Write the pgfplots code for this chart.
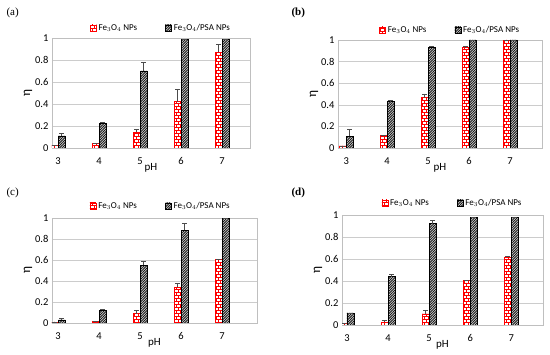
\documentclass[border=0pt]{standalone}
\usepackage{fontspec}
\setmainfont{Carlito}
\newfontfamily\panelfont{Liberation Serif}
\usepackage{pgfplots}
\pgfplotsset{compat=1.18}
\usetikzlibrary{patterns}
\pgfdeclarepatterninherentlycolored{redbricks}{\pgfpoint{-0.1pt}{-0.1pt}}{\pgfpoint{4.1pt}{6.1pt}}{\pgfpoint{4pt}{6pt}}{%
  \pgfsetfillcolor{white}\pgfpathrectangle{\pgfpointorigin}{\pgfpoint{4pt}{6pt}}\pgfusepath{fill}%
  \pgfsetstrokecolor{red}\pgfsetlinewidth{0.9pt}%
  \pgfpathmoveto{\pgfpoint{0pt}{0pt}}\pgfpathlineto{\pgfpoint{4pt}{0pt}}%
  \pgfpathmoveto{\pgfpoint{0pt}{3pt}}\pgfpathlineto{\pgfpoint{4pt}{3pt}}%
  \pgfpathmoveto{\pgfpoint{0pt}{0pt}}\pgfpathlineto{\pgfpoint{0pt}{3pt}}%
  \pgfpathmoveto{\pgfpoint{2pt}{3pt}}\pgfpathlineto{\pgfpoint{2pt}{6pt}}%
  \pgfusepath{stroke}}
\pgfdeclarepatterninherentlycolored{darkhatch}{\pgfpoint{-0.1pt}{-0.1pt}}{\pgfpoint{2.6pt}{2.6pt}}{\pgfpoint{2.5pt}{2.5pt}}{%
  \pgfsetfillcolor{black!15}\pgfpathrectangle{\pgfpointorigin}{\pgfpoint{2.5pt}{2.5pt}}\pgfusepath{fill}%
  \pgfsetstrokecolor{black!90}\pgfsetlinewidth{0.75pt}%
  \pgfpathmoveto{\pgfpoint{-0.5pt}{-0.5pt}}\pgfpathlineto{\pgfpoint{3pt}{3pt}}%
  \pgfusepath{stroke}}
\pgfplotsset{
  panel/.style={
    ybar=0pt, bar width=7pt, scale only axis,
    xtick={0,1,2,3,4}, xticklabels={3,4,5,6,7},
    ymin=0, ymax=1, ytick={0,0.2,0.4,0.6,0.8,1},
    yticklabels={0,0.2,0.4,0.6,0.8,1},
    major tick length=0pt,
    axis line style={black!25},
    ymajorgrids, grid style={black!20},
    tick label style={font=\fontsize{10.5}{12}\selectfont},
    xticklabel style={yshift=-6pt},
    xlabel={pH}, ylabel={η},
    xlabel style={font=\fontsize{11}{13}\selectfont, yshift=8pt},
    ylabel style={font=\fontsize{13}{14}\selectfont, yshift=-4pt},
    legend columns=2,
    legend style={draw=none, fill=none, font=\fontsize{9}{11}\selectfont,
      /tikz/every even column/.append style={column sep=26pt}},
    legend image code/.code={\draw[#1] (0pt,-3pt) rectangle (6pt,3pt);},
    error bars/y dir=plus, error bars/y explicit,
    error bars/error bar style={black!70, line width=0.6pt},
    error bars/error mark options={rotate=90, mark size=2.5pt, black!70, line width=0.6pt},
  },
  redbar/.style={draw=red, pattern=redbricks, line width=0.6pt},
  blackbar/.style={draw=black, pattern=darkhatch, line width=0.6pt},
}
\begin{document}
\begin{tikzpicture}
\useasboundingbox (0,0) rectangle (550pt,-355pt);
% (a)
\begin{axis}[panel, at={(52pt,-148pt)}, anchor=south west, width=198pt, height=110pt,
  xmin=-0.15, xmax=4.68,
  legend style={at={(0.55,1)}, anchor=south, yshift=2pt}]
\addplot[redbar] coordinates {(0,0.025) +- (0,0.0) (1,0.04) +- (0,0.005) (2,0.145) +- (0,0.025) (3,0.42) +- (0,0.11) (4,0.87) +- (0,0.075)};
\addplot[blackbar] coordinates {(0,0.11) +- (0,0.025) (1,0.225) +- (0,0.01) (2,0.70) +- (0,0.08) (3,0.985) +- (0,0.0) (4,0.985) +- (0,0.0)};
\legend{Fe$_3$O$_4$ NPs, Fe$_3$O$_4$/PSA NPs}
\end{axis}
% (b)
\begin{axis}[panel, at={(338pt,-148pt)}, anchor=south west, width=204pt, height=108pt,
  xmin=-0.2, xmax=4.78,
  legend style={at={(0.55,1)}, anchor=south, yshift=2pt}]
\addplot[redbar] coordinates {(0,0.02) +- (0,0.0) (1,0.12) +- (0,0.0) (2,0.465) +- (0,0.035) (3,0.93) +- (0,0.01) (4,1.0) +- (0,0.0)};
\addplot[blackbar] coordinates {(0,0.11) +- (0,0.06) (1,0.43) +- (0,0.01) (2,0.935) +- (0,0.005) (3,1.0) +- (0,0.0) (4,1.0) +- (0,0.0)};
\legend{Fe$_3$O$_4$ NPs, Fe$_3$O$_4$/PSA NPs}
\end{axis}
% (c)
\begin{axis}[panel, at={(52pt,-323pt)}, anchor=south west, width=205pt, height=105pt,
  xmin=-0.15, xmax=4.85,
  legend style={at={(0.53,1)}, anchor=south, yshift=4pt}]
\addplot[redbar] coordinates {(0,0.01) +- (0,0.0) (1,0.015) +- (0,0.0) (2,0.09) +- (0,0.03) (3,0.34) +- (0,0.04) (4,0.605) +- (0,0.0)};
\addplot[blackbar] coordinates {(0,0.03) +- (0,0.01) (1,0.12) +- (0,0.01) (2,0.55) +- (0,0.04) (3,0.885) +- (0,0.065) (4,0.995) +- (0,0.0)};
\legend{Fe$_3$O$_4$ NPs, Fe$_3$O$_4$/PSA NPs}
\end{axis}
% (d)
\begin{axis}[panel, at={(342pt,-325pt)}, anchor=south west, width=201pt, height=110pt,
  xmin=-0.12, xmax=4.77,
  legend style={at={(0.55,1)}, anchor=south, yshift=4pt}]
\addplot[redbar] coordinates {(0,0.015) +- (0,0.0) (1,0.025) +- (0,0.015) (2,0.10) +- (0,0.03) (3,0.405) +- (0,0.0) (4,0.615) +- (0,0.01)};
\addplot[blackbar] coordinates {(0,0.11) +- (0,0.0) (1,0.44) +- (0,0.02) (2,0.92) +- (0,0.03) (3,0.98) +- (0,0.0) (4,0.98) +- (0,0.0)};
\legend{Fe$_3$O$_4$ NPs, Fe$_3$O$_4$/PSA NPs}
\end{axis}
\node[anchor=west, font=\panelfont\fontsize{11}{13}\selectfont] at (3pt,-13pt) {(a)};
\node[anchor=west, font=\panelfont\bfseries\fontsize{11}{13}\selectfont] at (288pt,-13pt) {(b)};
\node[anchor=west, font=\panelfont\fontsize{11}{13}\selectfont] at (3pt,-193pt) {(c)};
\node[anchor=west, font=\panelfont\bfseries\fontsize{11}{13}\selectfont] at (288pt,-193pt) {(d)};
\end{tikzpicture}
\end{document}
